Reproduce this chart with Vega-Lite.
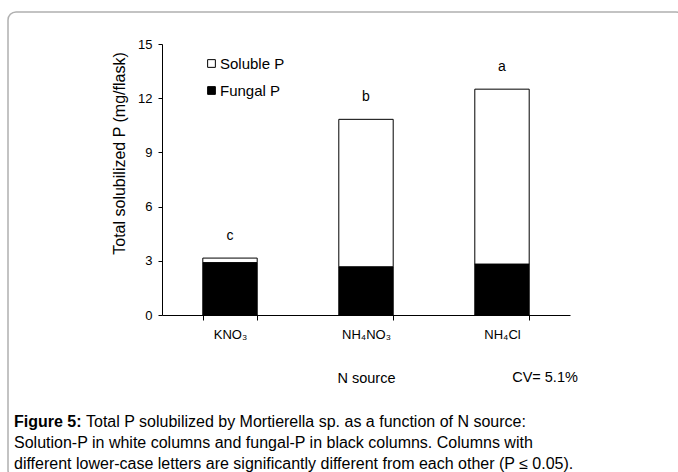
{
  "$schema": "https://vega.github.io/schema/vega-lite/v6.json",
  "autosize": {"type": "none"},
  "padding": {"left": 8, "top": 12, "right": -6, "bottom": -6},
  "width": 676,
  "height": 466,
  "background": "white",
  "title": {
    "text": "Figure 5:",
    "subtitle": [
      "\u200b\u2003\u2003\u2003\u2003\u2002Total P solubilized by Mortierella sp. as a function of N source:",
      "Solution-P in white columns and fungal-P in black columns. Columns with",
      "different lower-case letters are significantly different from each other (P \u2264 0.05)."
    ],
    "orient": "bottom",
    "anchor": "start",
    "frame": "group",
    "offset": -64,
    "dx": 6,
    "font": "Liberation Sans",
    "fontSize": 16,
    "fontWeight": "bold",
    "color": "black",
    "subtitleFont": "Liberation Sans",
    "subtitleFontSize": 16,
    "subtitleColor": "black",
    "subtitlePadding": -16,
    "subtitleLineHeight": 21
  },
  "data": {
    "values": [
      {"source": "KNO\u2083", "component": "Fungal P", "mg": 2.9, "letter": "c"},
      {"source": "KNO\u2083", "component": "Soluble P", "mg": 0.25, "letter": "c"},
      {"source": "NH\u2084NO\u2083", "component": "Fungal P", "mg": 2.67, "letter": "b"},
      {"source": "NH\u2084NO\u2083", "component": "Soluble P", "mg": 8.16, "letter": "b"},
      {"source": "NH\u2084Cl", "component": "Fungal P", "mg": 2.82, "letter": "a"},
      {"source": "NH\u2084Cl", "component": "Soluble P", "mg": 9.68, "letter": "a"}
    ]
  },
  "layer": [
    {
      "mark": {"type": "bar", "stroke": "black", "strokeWidth": 1},
      "encoding": {
        "x": {
          "field": "source",
          "type": "nominal",
          "sort": null,
          "scale": {"range": [154, 562], "paddingInner": 0.6, "paddingOuter": 0.3},
          "axis": {
            "title": "N source",
            "titleY": 63,
            "titleBaseline": "middle",
            "titleFont": "Liberation Sans",
            "titleFontSize": 14.5,
            "titleFontWeight": "normal",
            "titleColor": "black",
            "offset": -163,
            "labelAngle": 0,
            "labelFont": "Liberation Sans",
            "labelFontSize": 13,
            "labelColor": "black",
            "labelPadding": 8,
            "tickBand": "extent",
            "tickSize": 5,
            "tickColor": "black",
            "domainColor": "black",
            "grid": false
          }
        },
        "y": {
          "field": "mg",
          "type": "quantitative",
          "stack": "zero",
          "scale": {"domain": [0, 15], "range": [303, 32], "nice": false},
          "axis": {
            "title": "Total solubilized P (mg/flask)",
            "titleX": -43,
            "titleY": 141,
            "titleBaseline": "middle",
            "titleAlign": "center",
            "titleFont": "Liberation Sans",
            "titleFontSize": 16,
            "titleFontWeight": "normal",
            "titleColor": "black",
            "offset": -154,
            "values": [0, 3, 6, 9, 12, 15],
            "labelFont": "Liberation Sans",
            "labelFontSize": 13,
            "labelColor": "black",
            "labelPadding": 6,
            "tickSize": 4,
            "tickColor": "black",
            "domainColor": "black",
            "grid": false
          }
        },
        "color": {
          "field": "component",
          "type": "nominal",
          "scale": {"domain": ["Soluble P", "Fungal P"], "range": ["white", "black"]},
          "legend": {
            "title": null,
            "orient": "none",
            "legendX": 196,
            "legendY": 44,
            "symbolType": "square",
            "symbolSize": 60,
            "symbolStrokeColor": "black",
            "symbolStrokeWidth": 1,
            "symbolOpacity": 1,
            "labelFont": "Liberation Sans",
            "labelFontSize": 15,
            "labelColor": "black",
            "labelOffset": 1,
            "rowPadding": 11,
            "padding": 0
          }
        },
        "order": {"field": "component", "sort": "ascending"}
      }
    },
    {
      "mark": {"type": "text", "dy": -22, "baseline": "middle", "font": "Liberation Sans", "fontSize": 14, "fontWeight": "normal", "color": "black"},
      "encoding": {
        "x": {"field": "source", "type": "nominal", "sort": null},
        "y": {"aggregate": "sum", "field": "mg", "type": "quantitative"},
        "text": {"field": "letter"}
      }
    },
    {
      "data": {"values": [{"note": "CV= 5.1%", "source": "NH\u2084Cl"}]},
      "mark": {"type": "text", "dy": 63, "dx": 43, "baseline": "middle", "font": "Liberation Sans", "fontSize": 14.5, "fontWeight": "normal", "color": "black"},
      "encoding": {
        "x": {"field": "source", "type": "nominal", "sort": null},
        "y": {"datum": 0, "type": "quantitative"},
        "text": {"field": "note"}
      }
    }
  ],
  "config": {
    "view": {"stroke": "#b0b0b0", "strokeWidth": 1.5, "cornerRadius": 8},
    "axis": {"grid": false}
  }
}
